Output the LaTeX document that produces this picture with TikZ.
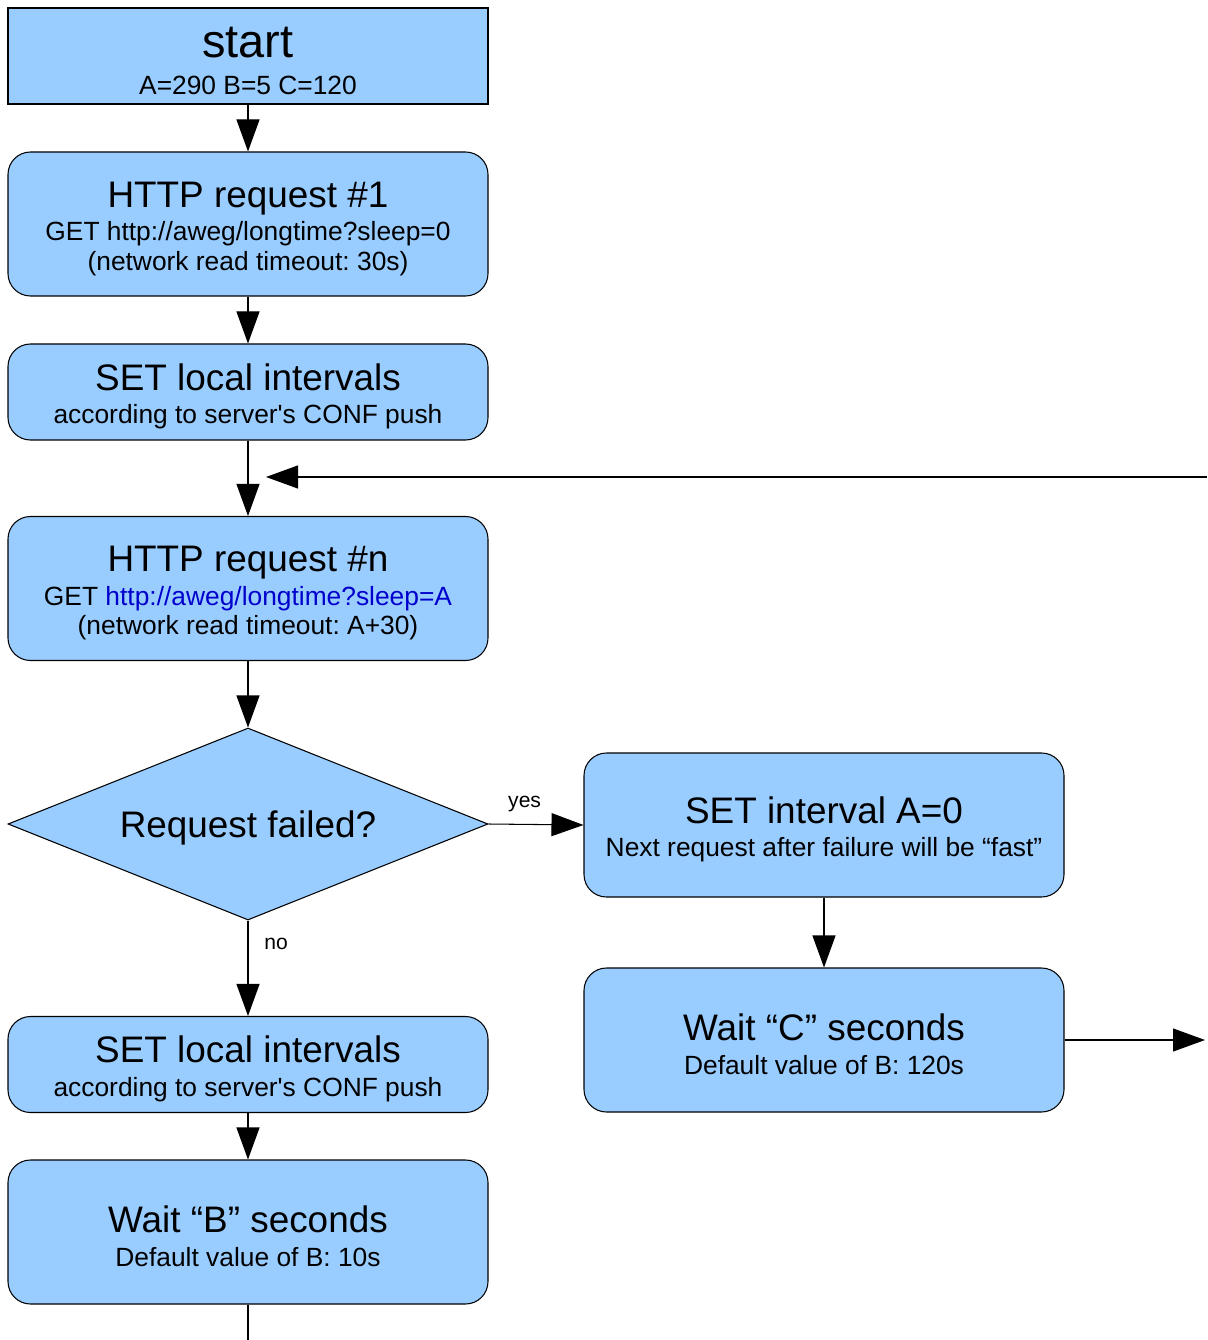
\documentclass[tikz,border=0pt]{standalone}
\usepackage{fontspec}
\setmainfont{Liberation Sans}[Ligatures=TeXOff]
\usepackage{xcolor}
\usetikzlibrary{positioning}
\usetikzlibrary{shapes.geometric}
\usetikzlibrary{arrows.meta}
\definecolor{boxblue}{RGB}{153,204,255}
\definecolor{linkblue}{RGB}{0,0,204}
\newcommand{\boxbig}{\fontsize{26.7}{30}\selectfont\rule{0pt}{23pt}}
\newcommand{\boxtitle}{\fontsize{21}{24}\selectfont\rule{0pt}{20pt}}
\newcommand{\boxsub}{\fontsize{15}{17}\selectfont}
\frenchspacing

\begin{document}
\begin{tikzpicture}
  [
    box/.style={
       draw=black,
       fill=boxblue,
       line width=0.6pt,
       minimum width=9.6cm,
       align=center,
       font=\boxsub,
       inner sep=0pt
    },
    tall/.style={box, rounded corners=0.45cm, minimum height=2.88cm},
    short/.style={box, rounded corners=0.45cm, minimum height=1.92cm},
    decision/.style={
       diamond,
       draw=black,
       fill=boxblue,
       line width=0.6pt,
       minimum width=9.6cm,
       minimum height=3.84cm,
       shape aspect=2.5,
       inner sep=0pt
    },
    flow/.style={
       draw=black,
       line width=0.6pt,
       -{Triangle[length=0.64cm,width=0.46cm]}
    },
    lbl/.style={font=\fontsize{12}{14}\selectfont}
  ]
  \useasboundingbox (0,0) rectangle (24.14,-26.8);

  \node (start) at ( 4.96, -1.12) [box, minimum height=1.92cm]
        {{\boxbig start}\\[3.8pt]A=290 B=5 C=120};
  \node (req1)  at ( 4.96, -4.48) [tall]
        {{\boxtitle HTTP request \#1}\\[2pt]GET http://aweg/longtime?sleep=0\\(network read timeout: 30s)};
  \node (set1)  at ( 4.96, -7.84) [short]
        {{\boxtitle SET local intervals}\\[2pt]according to server's CONF push};
  \node (reqn)  at ( 4.96,-11.77) [tall]
        {{\boxtitle HTTP request \#n}\\[2pt]GET \textcolor{linkblue}{http://aweg/longtime?sleep=A}\\(network read timeout: A+30)};
  \node (fail)  at ( 4.96,-16.48) [decision] {\boxtitle Request failed?};
  \node (setA)  at (16.48,-16.50) [tall]
        {{\boxtitle SET interval A=0}\\[2pt]Next request after failure will be “fast”};
  \node (waitC) at (16.48,-20.80) [tall]
        {{\boxtitle Wait “C” seconds}\\[2pt]Default value of B: 120s};
  \node (set2)  at ( 4.96,-21.29) [short]
        {{\boxtitle SET local intervals}\\[2pt]according to server's CONF push};
  \node (waitB) at ( 4.96,-24.64) [tall]
        {{\boxtitle Wait “B” seconds}\\[2pt]Default value of B: 10s};

  \coordinate (loopin)  at (24.14, -9.54);
  \coordinate (loopend) at ( 5.32, -9.54);
  \coordinate (cout)    at (24.10,-20.80);
  \coordinate (bout)    at ( 4.96,-26.80);

  \draw [flow] (start) -- (req1);
  \draw [flow] (req1) -- (set1);
  \draw [flow] (set1) -- (reqn);
  \draw [flow] (loopin) -- (loopend);
  \draw [flow] (reqn) -- (fail);
  \draw [flow] (fail.east) -- (setA.west) node [lbl, above, pos=0.38, yshift=0.12cm] (yes) {yes};
  \draw [flow] (setA) -- (waitC);
  \draw [flow] (waitC.east) -- (cout);
  \draw [flow] (fail.south) -- (set2) node [lbl, right, pos=0.24, xshift=0.2cm] (no) {no};
  \draw [flow] (set2) -- (waitB);
  \draw [line width=0.6pt] (waitB) -- (bout);
\end{tikzpicture}
\end{document}
